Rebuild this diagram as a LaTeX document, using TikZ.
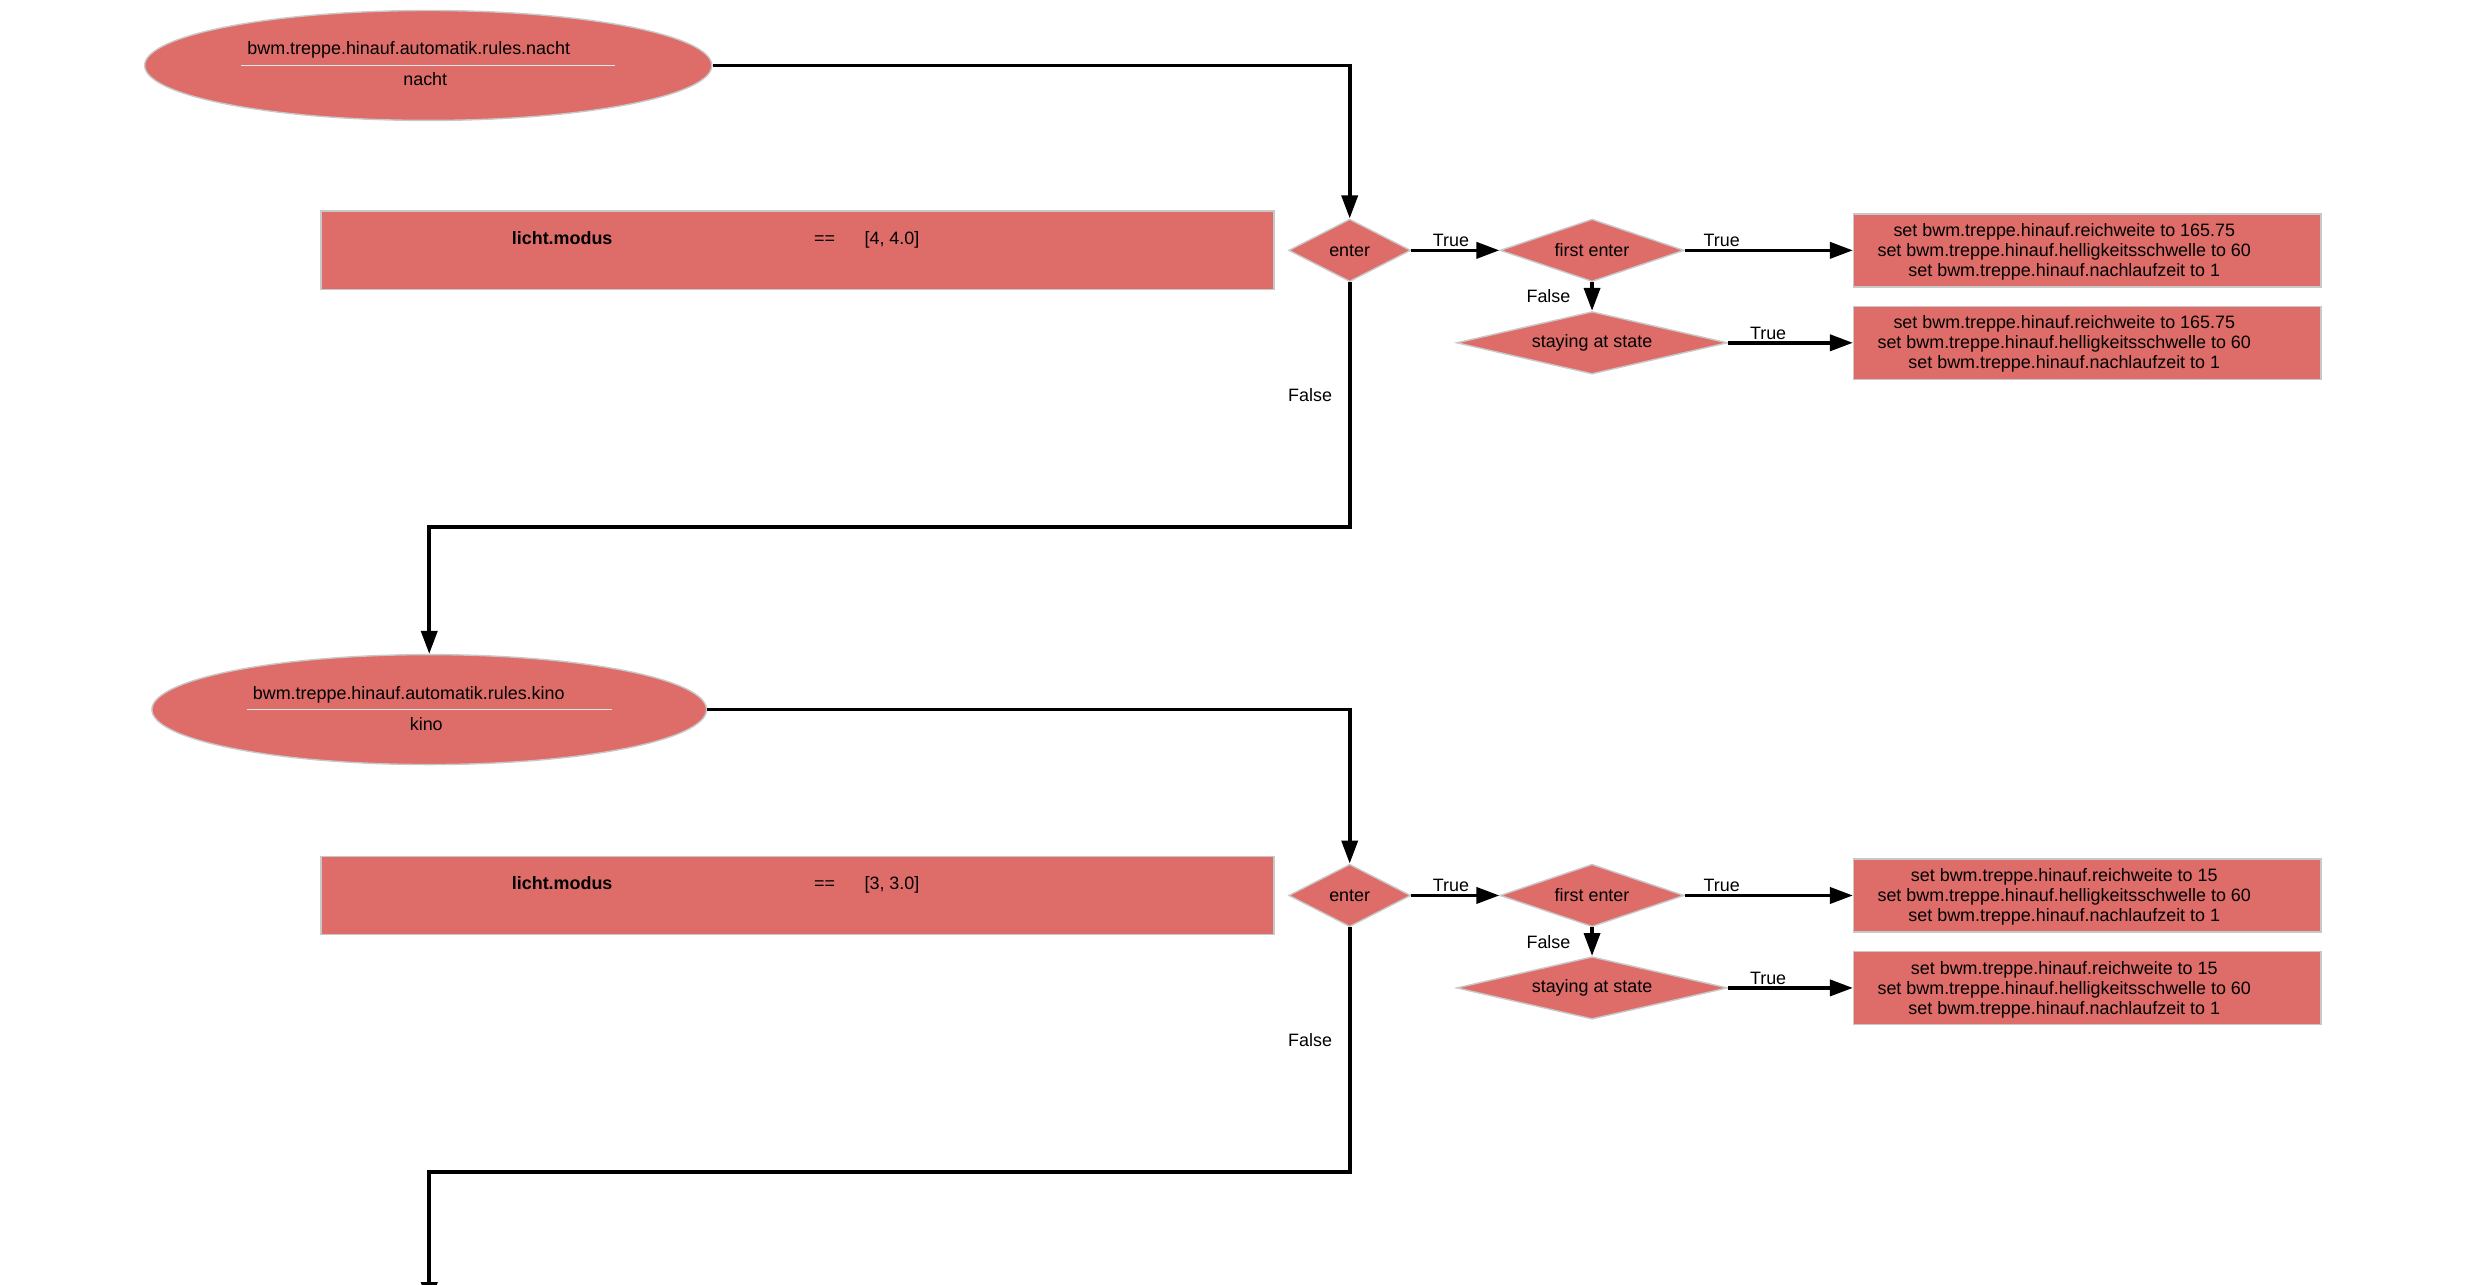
\documentclass[tikz,border=0pt]{standalone}
\usepackage{fontspec}
\setmainfont{Liberation Sans}
\usetikzlibrary{positioning, shapes.geometric, arrows.meta}
\definecolor{rulered}{RGB}{222,108,104}
\definecolor{rimgray}{RGB}{200,200,200}
\tikzset{
>={Triangle[length=0.46cm, width=0.32cm]}, % big filled arrow heads
rulenode/.style={ellipse, draw=rimgray, line width=0.8pt, fill=rulered, inner sep=0pt, minimum height=2.2cm}, % the rule itself
cond/.style={rectangle, draw=rimgray, line width=0.8pt, fill=rulered, minimum width=19.07cm, minimum height=1.57cm}, % condition row
check/.style={diamond, draw=rimgray, line width=0.8pt, fill=rulered, inner sep=0pt, minimum height=1.25cm}, % decisions
action/.style={rectangle, draw=rimgray, line width=0.8pt, fill=rulered, minimum width=9.35cm, minimum height=1.46cm}, % what gets set
flow/.style={->, line width=2.1pt}, % connectors
namerule/.style={line width=0.7pt, draw=white!82!gray}, % line under the rule name
tag/.style={inner sep=1pt}, % True / False labels
}

\begin{document}
\begin{tikzpicture}[font=\fontsize{10.2pt}{11.4pt}\selectfont]
    \useasboundingbox (0,0) rectangle (49.71,-25.71);

    % rule nacht
    \node[rulenode, minimum width=11.35cm] (nacht) at (8.57,-1.31) {};
    \node (nachtname) at ([xshift=-0.39cm, yshift=0.32cm]nacht.center) {bwm.treppe.hinauf.automatik.rules.nacht};
    \node (nachtlabel) at ([xshift=-0.06cm, yshift=-0.28cm]nacht.center) {nacht};
    \draw[namerule] ([xshift=-3.74cm]nacht.center) -- ([xshift=3.74cm]nacht.center);

    \node[check, aspect=1.95, minimum width=2.44cm] (enter1) at (27.01,-5.01) {enter};
    \node[cond, node distance=11.05cm, left of=enter1] (cond1) {};
    \node[anchor=base] (cond1key) at ([xshift=-4.71cm, yshift=0.115cm]cond1.center) {\textbf{licht.modus}};
    \node[anchor=base] (cond1op) at ([xshift=0.54cm, yshift=0.115cm]cond1.center) {==};
    \node[anchor=base] (cond1val) at ([xshift=1.89cm, yshift=0.115cm]cond1.center) {[4, 4.0]};
    \node[check, aspect=2.9, minimum width=3.68cm, node distance=4.85cm, right of=enter1] (first1) {first enter};
    \node[check, aspect=4.3, minimum width=5.42cm, node distance=1.85cm, below of=first1] (stay1) {staying at state};
    \node[action, node distance=9.91cm, right of=first1] (act1) {};
    \node[action, node distance=9.91cm, right of=stay1] (act2) {};
    \node[align=center] (act1txt) at ([xshift=-0.46cm, yshift=-0.03cm]act1.center) {set bwm.treppe.hinauf.reichweite to 165.75\\set bwm.treppe.hinauf.helligkeitsschwelle to 60\\set bwm.treppe.hinauf.nachlaufzeit to 1};
    \node[align=center] (act2txt) at ([xshift=-0.46cm, yshift=-0.03cm]act2.center) {set bwm.treppe.hinauf.reichweite to 165.75\\set bwm.treppe.hinauf.helligkeitsschwelle to 60\\set bwm.treppe.hinauf.nachlaufzeit to 1};

    \draw[flow] (nacht.east) -| (enter1.north);
    \draw[flow] (enter1.east) -- node[tag, above, pos=0.45] {True} (first1.west);
    \draw[flow] (first1.east) -- node[tag, above, pos=0.22] {True} (act1.west);
    \draw[flow] (first1.south) -- node[left, xshift=-0.28cm] {False} (stay1.north);
    \draw[flow] (stay1.east) -- node[tag, above, pos=0.32] {True} (act2.west);

    % rule kino
    \node[rulenode, minimum width=11.1cm] (kino) at (8.59,-14.2) {};
    \node (kinoname) at ([xshift=-0.41cm, yshift=0.3cm]kino.center) {bwm.treppe.hinauf.automatik.rules.kino};
    \node (kinolabel) at ([xshift=-0.06cm, yshift=-0.29cm]kino.center) {kino};
    \draw[namerule] ([xshift=-3.65cm]kino.center) -- ([xshift=3.65cm]kino.center);

    \coordinate (bend1) at (27.01,-10.54);
    \draw[flow] (enter1.south) -- node[left, pos=0.46, xshift=-0.2cm] {False} (bend1) -| (kino.north);

    \node[check, aspect=1.95, minimum width=2.44cm] (enter2) at (27.01,-17.92) {enter};
    \node[cond, node distance=11.05cm, left of=enter2] (cond2) {};
    \node[anchor=base] (cond2key) at ([xshift=-4.71cm, yshift=0.115cm]cond2.center) {\textbf{licht.modus}};
    \node[anchor=base] (cond2op) at ([xshift=0.54cm, yshift=0.115cm]cond2.center) {==};
    \node[anchor=base] (cond2val) at ([xshift=1.89cm, yshift=0.115cm]cond2.center) {[3, 3.0]};
    \node[check, aspect=2.9, minimum width=3.68cm, node distance=4.85cm, right of=enter2] (first2) {first enter};
    \node[check, aspect=4.3, minimum width=5.42cm, node distance=1.85cm, below of=first2] (stay2) {staying at state};
    \node[action, node distance=9.91cm, right of=first2] (act3) {};
    \node[action, node distance=9.91cm, right of=stay2] (act4) {};
    \node[align=center] (act3txt) at ([xshift=-0.46cm, yshift=-0.03cm]act3.center) {set bwm.treppe.hinauf.reichweite to 15\\set bwm.treppe.hinauf.helligkeitsschwelle to 60\\set bwm.treppe.hinauf.nachlaufzeit to 1};
    \node[align=center] (act4txt) at ([xshift=-0.46cm, yshift=-0.03cm]act4.center) {set bwm.treppe.hinauf.reichweite to 15\\set bwm.treppe.hinauf.helligkeitsschwelle to 60\\set bwm.treppe.hinauf.nachlaufzeit to 1};

    \draw[flow] (kino.east) -| (enter2.north);
    \draw[flow] (enter2.east) -- node[tag, above, pos=0.45] {True} (first2.west);
    \draw[flow] (first2.east) -- node[tag, above, pos=0.22] {True} (act3.west);
    \draw[flow] (first2.south) -- node[left, xshift=-0.28cm] {False} (stay2.north);
    \draw[flow] (stay2.east) -- node[tag, above, pos=0.32] {True} (act4.west);

    % on to the next rule, below the page edge
    \coordinate (bend2) at (27.01,-23.46);
    \coordinate (next) at (8.59,-26.12);
    \draw[flow] (enter2.south) -- node[left, pos=0.46, xshift=-0.2cm] {False} (bend2) -| (next);
\end{tikzpicture}
\end{document}
